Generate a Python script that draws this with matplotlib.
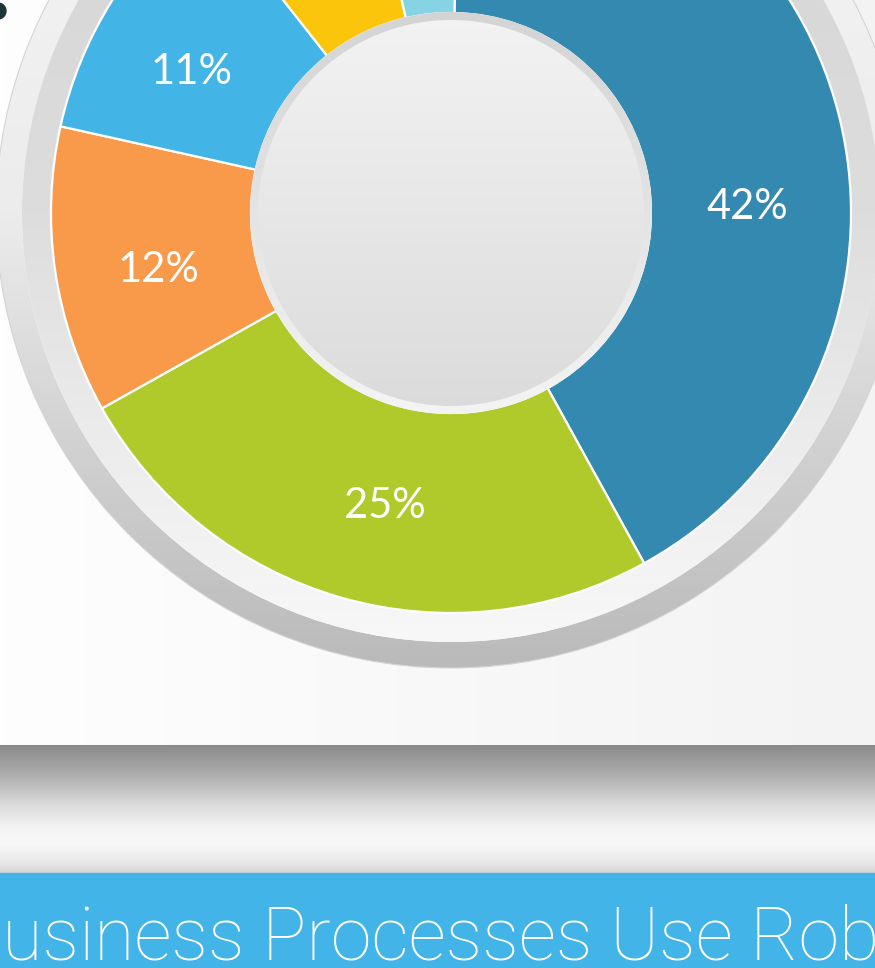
"""Donut infographic: share of business processes, cropped banner view."""

import matplotlib

matplotlib.use("Agg")
import matplotlib.pyplot as plt
import numpy as np
from matplotlib.colors import LinearSegmentedColormap
from matplotlib.patches import Circle, Rectangle, Wedge

# slices, clockwise from 12 o'clock (as drawn; labels are rounded)
SHARES = [41.7, 24.9, 11.6, 10.9, 7.0, 3.9]
SLICE_COLORS = ["#3389b0", "#b1ca2b", "#f99a4b", "#42b4e6", "#fbc50c", "#86d3e3"]
PCT_LABELS = [f"{s:.0f}%" for s in SHARES]
BANNER_TEXT = "Business Processes Use Robots"

W, H = 875, 968
CX, CY = 451, H - 213
R_OUT, R_IN = 400, 200
LABEL_R = 297
LABEL_NUDGE_DEG = [-12, 3, 2, 3, 0, 0]


def gradient(ax, stops, extent, zorder, clip=None, horizontal=False):
    """Fill extent with a linear gradient (stops listed bottom->top or left->right)."""
    cmap = LinearSegmentedColormap.from_list("g", stops)
    grad = np.linspace(0, 1, 256).reshape(-1, 1)
    if horizontal:
        grad = grad.T
    im = ax.imshow(grad, cmap=cmap, extent=extent, origin="lower", aspect="auto",
                   interpolation="bilinear", zorder=zorder)
    if clip is not None:
        im.set_clip_path(clip)
    return im


def ring(ax, r, width):
    return Wedge((CX, CY), r, 0, 360, width=width, transform=ax.transData)


fig = plt.figure(figsize=(W / 100, H / 100), dpi=100)
ax = fig.add_axes([0, 0, 1, 1])

# page background and grey shelf band
gradient(ax, ["#fefefe", "#f3f3f3"], (0, W, 223, H), 0, horizontal=True)
gradient(ax, [(0.0, "#d5d5d5"), (0.08, "#e8e8e8"), (0.23, "#f8f8f8"), (0.34, "#f5f5f5"),
              (0.55, "#d8d8d8"), (0.8, "#a8a8a8"), (1.0, "#8a8a8a")],
         (0, W, 95, 223), 0)
ax.add_patch(Rectangle((0, 0), W, 95, color="#43b4e7", zorder=1))

# bevelled outer frame
ext_outer = (CX - 455, CX + 455, CY - 455, CY + 455)
gradient(ax, [(0.0, "#bababa"), (0.25, "#d2d2d2"), (0.5, "#ececec"), (1.0, "#f6f6f6")],
         ext_outer, 1, clip=ring(ax, 455, 26))
gradient(ax, [(0.0, "#f9f9f9"), (0.25, "#ececec"), (0.5, "#dddddd"), (1.0, "#d3d3d3")],
         ext_outer, 1, clip=ring(ax, 429, 30))
ax.add_patch(Circle((CX, CY), 455, fill=False, edgecolor="#d4d4d4", linewidth=0.8, zorder=2))

wedges, _ = ax.pie(SHARES, colors=SLICE_COLORS, startangle=89, counterclock=False,
                   radius=R_OUT, center=(CX, CY), frame=True,
                   wedgeprops=dict(width=R_OUT - R_IN, edgecolor="white", linewidth=1.6))
for w in wedges:
    w.set_zorder(3)

# centre disc with bevel
ext_inner = (CX - 201, CX + 201, CY - 201, CY + 201)
gradient(ax, ["#f4f4f4", "#d4d4d4"], ext_inner, 4, clip=ring(ax, 201, 9))
gradient(ax, ["#dbdbdb", "#f3f3f3"], ext_inner, 4,
         clip=Circle((CX, CY), 193, transform=ax.transData))

for w, label, nudge in zip(wedges, PCT_LABELS, LABEL_NUDGE_DEG):
    ang = np.deg2rad((w.theta1 + w.theta2) / 2 + nudge)
    x = CX + LABEL_R * np.cos(ang)
    y = CY + LABEL_R * np.sin(ang) - 4
    if y > H - 20:
        # small slices have their labels above the cropped frame
        continue
    ax.text(x, y, label, color="white", fontsize=30, family=["Lato", "DejaVu Sans"],
            ha="center", va="center", zorder=6)

# fragment of an icon peeking in at top left
ax.add_patch(Circle((-2, H - 11), 8, color="#1d3539", zorder=6))

# banner caption, cropped on both sides like the source
kw = dict(color="white", family=["Roboto", "DejaVu Sans"], weight="light",
          va="baseline", ha="left", zorder=6)
fig.canvas.draw()
renderer = fig.canvas.get_renderer()
probe = ax.text(0, 9, "usiness Processes Use", fontsize=50, **kw)
size = 50 * 732 / probe.get_window_extent(renderer).width
probe.set_fontsize(size)
probe.set_text("Bu")
w_bu = probe.get_window_extent(renderer).width
probe.set_text("u")
w_u = probe.get_window_extent(renderer).width
probe.remove()
ax.text(2 - (w_bu - w_u), 9, BANNER_TEXT, fontsize=size, **kw)

ax.set_xlim(0, W)
ax.set_ylim(0, H)
ax.set_aspect("equal", adjustable="box")
ax.axis("off")
fig.savefig("out.png", dpi=100)
plt.close(fig)
